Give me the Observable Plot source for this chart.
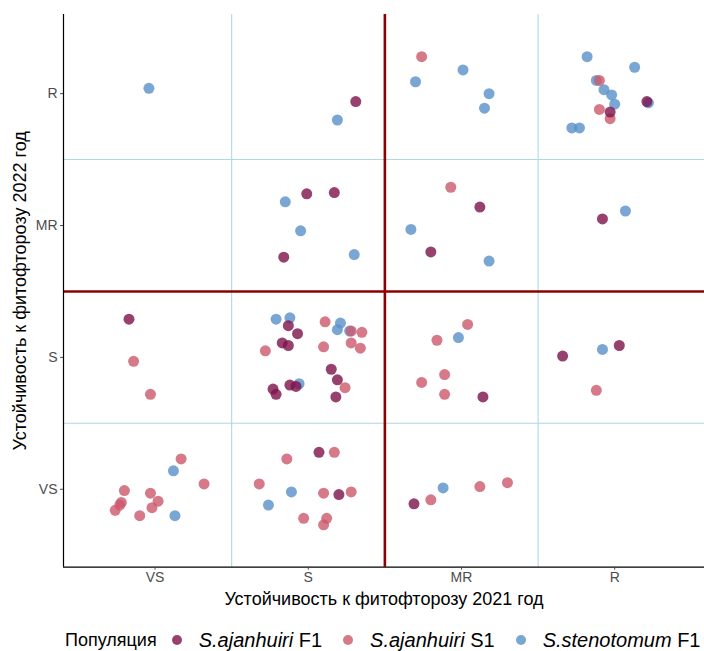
<!DOCTYPE html>
<html><head><meta charset="utf-8">
<script src="https://cdn.jsdelivr.net/npm/d3@7"></script>
<script src="https://cdn.jsdelivr.net/npm/@observablehq/plot@0.6"></script>
<style>
body{margin:0;background:#fff;font-family:"Liberation Sans",Arial,sans-serif;}
#chart svg{display:block;}
#chart g[aria-label$="tick label"] text{font-size:14px;}
#legend{display:flex;align-items:center;height:24px;margin-top:16px;padding-left:65px;white-space:nowrap;color:#000;line-height:24px;}
#legend .ttl{font-size:18px;margin-right:15px;}
#legend .dot{width:10px;height:10px;border-radius:50%;margin-right:17px;flex:none;}
#legend .lab{font-size:20px;margin-right:21px;}
</style></head><body>
<div id="chart"></div><div id="legend"></div>
<script>
const levels = ["VS", "S", "MR", "R"];
const populations = ["S.ajanhuiri F1", "S.ajanhuiri S1", "S.stenotomum F1"];
const colors = ["#7D134A", "#CC596D", "#5990C9"];
const xTitle = "Устойчивость к фитофторозу 2021 год";
const yTitle = "Устойчивость к фитофторозу 2022 год";
const legendTitle = "Популяция";

// S.ajanhuiri F1
const ajF1_x = [2.31,1.99,2.17,1.84,3.12,2.80,4.21,3.97,3.92,0.83,1.87,1.93,1.83,1.87,2.15,2.19,2.18,1.77,1.79,1.88,1.92,3.14,3.66,4.03,2.07,2.20,2.69];
const ajF1_y = [3.94,3.24,3.25,2.76,3.14,2.80,3.94,3.86,3.05,2.29,2.24,2.18,2.11,2.09,1.91,1.83,1.70,1.76,1.72,1.79,1.78,1.70,2.01,2.09,1.28,0.96,0.89];
// S.ajanhuiri S1
const ajS1_x = [2.74,3.90,3.90,3.97,2.93,0.86,0.97,1.72,2.11,2.28,2.35,2.10,2.28,2.34,2.24,3.04,2.84,2.89,2.74,2.89,3.88,1.17,1.32,0.80,0.97,0.78,0.77,0.74,1.02,0.98,0.90,2.17,1.86,1.68,2.10,2.28,1.97,2.12,2.10,2.80,3.12,3.30];
const ajS1_y = [4.28,4.10,3.88,3.81,3.29,1.97,1.72,2.05,2.27,2.20,2.19,2.08,2.11,2.07,1.77,2.25,2.13,1.87,1.81,1.72,1.75,1.23,1.04,0.99,0.97,0.90,0.88,0.84,0.91,0.86,0.80,1.28,1.23,1.04,0.97,0.98,0.78,0.78,0.73,0.92,1.02,1.05];
// S.stenotomum F1
const stF1_x = [0.96,2.19,1.85,1.95,2.30,3.01,2.70,3.18,3.15,3.82,4.13,3.88,3.93,3.98,4.00,4.22,3.72,3.77,2.67,3.18,4.07,1.79,1.88,2.21,2.19,2.27,1.94,2.98,3.92,1.12,1.13,1.89,1.74,2.88];
const stF1_y = [4.04,3.80,3.18,2.96,2.78,4.18,4.09,4.00,3.89,4.28,4.20,4.10,4.03,3.99,3.92,3.93,3.74,3.74,2.97,2.73,3.11,2.29,2.30,2.26,2.21,2.20,1.80,2.15,2.06,1.14,0.80,0.98,0.88,1.01];

const series = [
  {pop: populations[2], xs: stF1_x, ys: stF1_y},
  {pop: populations[1], xs: ajS1_x, ys: ajS1_y},
  {pop: populations[0], xs: ajF1_x, ys: ajF1_y}
];
const points = series.flatMap(s => s.xs.map((x, i) => ({pop: s.pop, x, y: s.ys[i]})));

const xDomain = [0.4025, 4.586];
const yDomain = [0.409, 4.6];
const font = '"Liberation Sans", Arial, sans-serif';

const plot = Plot.plot({
  width: 704, height: 612,
  marginLeft: 63, marginRight: 0, marginTop: 14, marginBottom: 45.3,
  style: {fontFamily: font, background: "white", overflow: "visible"},
  x: {domain: xDomain},
  y: {domain: yDomain},
  color: {domain: populations, range: colors},
  marks: [
    Plot.ruleX([1.5, 3.5], {stroke: "#ADD8E6", strokeWidth: 1.1}),
    Plot.ruleY([1.5, 3.5], {stroke: "#ADD8E6", strokeWidth: 1.1}),
    Plot.ruleX([2.5], {stroke: "#8B0000", strokeWidth: 2.6}),
    Plot.ruleY([2.5], {stroke: "#8B0000", strokeWidth: 2.6}),
    Plot.dot(points, {x: "x", y: "y", fill: "pop", r: 5.5, fillOpacity: 0.8}),
    Plot.ruleX([xDomain[0]], {stroke: "#000", strokeWidth: 1.2}),
    Plot.ruleY([yDomain[0]], {stroke: "#000", strokeWidth: 1.2}),
    Plot.axisX({ticks: [1, 2, 3, 4], tickFormat: d => levels[d - 1], tickSize: 3, tickPadding: 2, label: null, color: "#4d4d4d"}),
    Plot.axisY({ticks: [1, 2, 3, 4], tickFormat: d => levels[d - 1], tickSize: 3, tickPadding: 3, label: null, color: "#4d4d4d"}),
    Plot.text([xTitle], {text: d => d, frameAnchor: "bottom", lineAnchor: "middle", textAnchor: "middle", dy: 32, fontSize: 18, fill: "#000"}),
    Plot.text([yTitle], {text: d => d, frameAnchor: "left", lineAnchor: "middle", textAnchor: "middle", dx: -43, rotate: -90, fontSize: 18, fill: "#000"})
  ]
});
document.getElementById("chart").append(plot);

const legend = document.getElementById("legend");
const t = document.createElement("span");
t.className = "ttl"; t.textContent = legendTitle;
legend.append(t);
populations.forEach((p, i) => {
  const dot = document.createElement("span");
  dot.className = "dot";
  dot.style.background = colors[i];
  dot.style.opacity = 0.8;
  legend.append(dot);
  const lab = document.createElement("span");
  lab.className = "lab";
  const parts = p.split(" ");
  const em = document.createElement("i");
  em.textContent = parts[0];
  lab.append(em, document.createTextNode(" " + parts.slice(1).join(" ")));
  legend.append(lab);
});
</script>
</body></html>
